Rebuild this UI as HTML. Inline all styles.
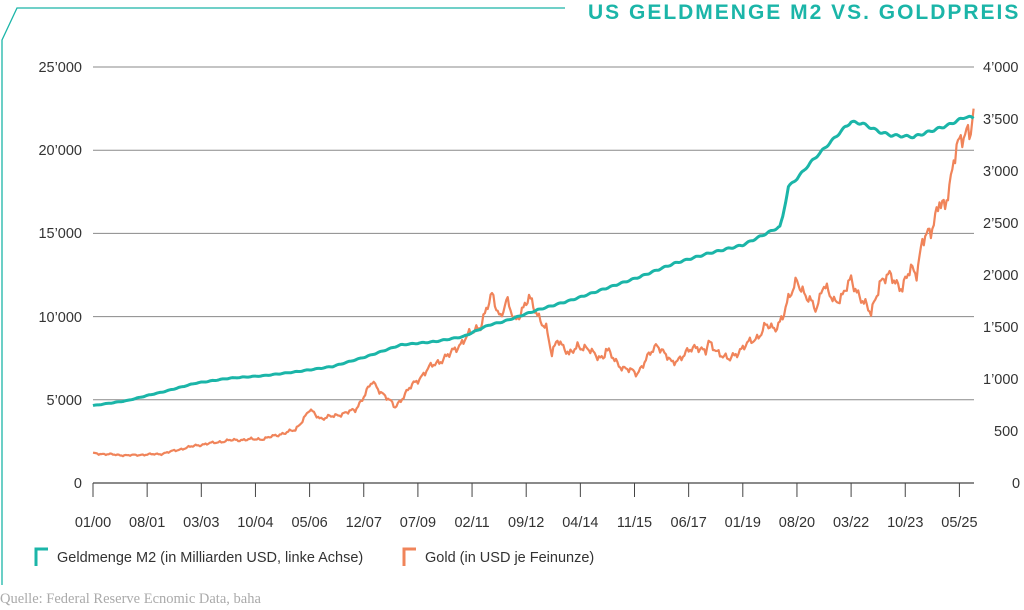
<!DOCTYPE html>
<html><head><meta charset="utf-8"><style>
body{margin:0;background:#fff;width:1024px;height:610px;overflow:hidden}
svg{display:block}
text{font-family:"Liberation Sans Narrow","Liberation Sans",sans-serif;fill:#333}
</style></head><body>
<svg id="s" width="1024" height="610" viewBox="0 0 1024 610">
<polyline points="2,585 2,40 17,8 565,8" fill="none" stroke="#1bb5a8" stroke-width="1.3"/>
<text x="1020" y="19" text-anchor="end" textLength="432" style="font-family:'Liberation Sans Narrow','Liberation Sans',sans-serif;font-weight:bold;font-size:21px;letter-spacing:1.6px;fill:#1bb5a8">US GELDMENGE M2 VS. GOLDPREIS</text>
<g stroke="#8a8a8a" stroke-width="1">
<line x1="93" x2="974" y1="67" y2="67"/><line x1="93" x2="974" y1="150.2" y2="150.2"/>
<line x1="93" x2="974" y1="233.4" y2="233.4"/><line x1="93" x2="974" y1="316.6" y2="316.6"/>
<line x1="93" x2="974" y1="399.8" y2="399.8"/>
</g>
<g font-size="14.5" text-anchor="end">
<text x="82" y="72">25’000</text><text x="82" y="155">20’000</text><text x="82" y="238">15’000</text>
<text x="82" y="322">10’000</text><text x="82" y="405">5’000</text><text x="82" y="488">0</text>
</g>
<g font-size="14.5" text-anchor="start">
<text x="983" y="72">4’000</text><text x="983" y="124">3’500</text><text x="983" y="176">3’000</text>
<text x="983" y="228">2’500</text><text x="983" y="280">2’000</text><text x="983" y="332">1’500</text>
<text x="983" y="384">1’000</text><text x="994" y="436">500</text><text x="1012" y="488">0</text>
</g>
<g id="xa"></g>
<polyline id="gold" fill="none" stroke="#f0845a" stroke-width="2.2" stroke-linejoin="round"/>
<polyline id="m2" fill="none" stroke="#1bb5a8" stroke-width="3" stroke-linejoin="round"/>
<line x1="93" x2="974" y1="483" y2="483" stroke="#444" stroke-width="1.3"/>
<polyline points="36,566 36,549 48,549" fill="none" stroke="#1bb5a8" stroke-width="3"/>
<text x="57" y="562" font-size="14.5">Geldmenge M2 (in Milliarden USD, linke Achse)</text>
<polyline points="404,566 404,549 416,549" fill="none" stroke="#f0845a" stroke-width="3"/>
<text x="425" y="562" font-size="14.5">Gold (in USD je Feinunze)</text>
<text x="0" y="603" font-size="14.5" style="font-family:'Liberation Serif',serif;fill:#aaa">Quelle: Federal Reserve Ecnomic Data, baha</text>
</svg>
<script>
var NS="http://www.w3.org/2000/svg",xa=document.getElementById("xa");
var labs=["01/00","08/01","03/03","10/04","05/06","12/07","07/09","02/11","09/12","04/14","11/15","06/17","01/19","08/20","03/22","10/23","05/25"];
labs.forEach(function(l,i){var x=93+i*19*2.85;
var ln=document.createElementNS(NS,"line");ln.setAttribute("x1",x);ln.setAttribute("x2",x);ln.setAttribute("y1",483);ln.setAttribute("y2",497);ln.setAttribute("stroke","#444");xa.appendChild(ln);
var t=document.createElementNS(NS,"text");t.setAttribute("x",x);t.setAttribute("y",527);t.setAttribute("text-anchor","middle");t.setAttribute("font-size","14.5");t.textContent=l;xa.appendChild(t);});
function interp(k,m){for(var i=0;i<k.length-1;i++){if(m>=k[i][0]&&m<=k[i+1][0]){var f=(m-k[i][0])/(k[i+1][0]-k[i][0]);return k[i][1]+f*(k[i+1][1]-k[i][1]);}}return k[k.length-1][1];}
var g=[[0,285],[12,265],[24,280],[36,360],[48,410],[60,425],[71,510],[76,700],[80,620],[84,640],[92,700],[98,970],[106,730],[112,940],[119,1130],[125,1230],[131,1400],[136,1520],[140,1800],[143,1600],[145,1750],[148,1560],[153,1770],[159,1480],[161,1230],[163,1400],[167,1220],[170,1330],[179,1200],[180,1280],[186,1100],[191,1060],[198,1340],[203,1150],[212,1320],[215,1260],[216,1340],[223,1180],[227,1280],[233,1400],[236,1510],[239,1480],[242,1600],[247,1970],[250,1780],[254,1690],[256,1900],[260,1750],[263,1800],[266,1950],[272,1660],[273,1630],[276,1930],[280,1990],[284,1870],[287,2060],[289,2030],[291,2330],[294,2400],[296,2630],[297,2740],[299,2620],[301,2900],[303,3300],[307,3330],[308,3350],[309,3600]];
var m=[[0,4650],[12,4950],[20,5300],[24,5450],[36,6000],[48,6300],[60,6450],[72,6700],[84,7000],[96,7600],[108,8300],[120,8500],[130,8800],[139,9500],[144,9700],[156,10400],[168,11000],[180,11700],[192,12400],[204,13200],[216,13800],[228,14300],[241,15400],[242,16000],[244,17800],[247,18300],[252,19300],[264,21400],[266,21700],[270,21600],[276,21100],[280,20900],[288,20800],[300,21500],[306,22000],[309,21950]];
var gp=[],mp=[];
for(var t=0;t<=309;t+=0.5){var x=93+t*2.85;
var v=interp(g,t);var n=(Math.sin(t*2.3)*0.6+Math.sin(t*5.1+1)*0.4+Math.sin(t*0.9+2)*0.4)*0.03*v;if(t>=308)n=0;
gp.push(x.toFixed(1)+","+(483-(v+n)*0.104).toFixed(1));
var mv=interp(m,t)*(1+Math.sin(t*1.7)*0.003);
mp.push(x.toFixed(1)+","+(483-mv*0.01664).toFixed(1));}
document.getElementById("gold").setAttribute("points",gp.join(" "));
document.getElementById("m2").setAttribute("points",mp.join(" "));
</script>
</body></html>
